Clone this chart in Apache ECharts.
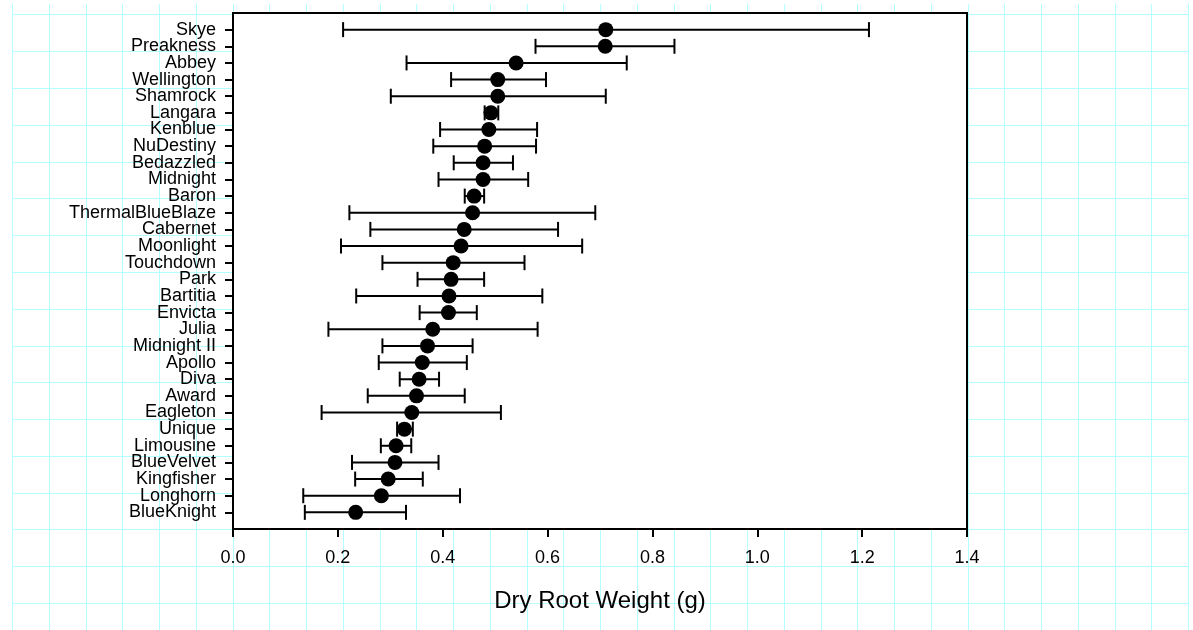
<!DOCTYPE html>
<html>
<head>
<meta charset="utf-8">
<script src="https://cdn.jsdelivr.net/npm/echarts@6/dist/echarts.min.js"></script>
<style>
html,body{margin:0;padding:0;background:#ffffff;}
#chart{width:1193px;height:630px;}
</style>
</head>
<body>
<div id="chart"></div>
<script>
// ---- data (top to bottom as drawn) ----
const cultivars = ['Skye','Preakness','Abbey','Wellington','Shamrock','Langara','Kenblue','NuDestiny','Bedazzled','Midnight','Baron','ThermalBlueBlaze','Cabernet','Moonlight','Touchdown','Park','Bartitia','Envicta','Julia','Midnight II','Apollo','Diva','Award','Eagleton','Unique','Limousine','BlueVelvet','Kingfisher','Longhorn','BlueKnight'];
const means = [0.711,0.710,0.540,0.505,0.505,0.492,0.488,0.480,0.477,0.477,0.460,0.457,0.441,0.435,0.420,0.416,0.412,0.411,0.381,0.371,0.361,0.355,0.350,0.341,0.327,0.311,0.309,0.296,0.283,0.234];
const lowerBounds = [0.210,0.577,0.331,0.416,0.301,0.480,0.395,0.382,0.421,0.392,0.442,0.222,0.262,0.206,0.285,0.352,0.235,0.356,0.182,0.285,0.278,0.318,0.257,0.169,0.313,0.282,0.227,0.233,0.134,0.137];
const upperBounds = [1.213,0.842,0.751,0.597,0.711,0.506,0.580,0.578,0.534,0.563,0.479,0.691,0.620,0.666,0.556,0.479,0.590,0.465,0.581,0.457,0.446,0.393,0.442,0.511,0.343,0.340,0.392,0.362,0.433,0.330];
const xMin = 0, xMax = 1.4, xStep = 0.2;
const xTitle = 'Dry Root Weight (g)';

// padded category list (empty slot above and below)
const yCats = [' '].concat(cultivars, ['  ']);

// ---- background graph-paper decoration ----
const bgColor = '#b4ffff';
const bg = [];
for (let i = 0; i <= 32; i++) {
  const x = Math.round(12 + 36.75 * i) + 0.5;
  bg.push({type:'line', z:-10, silent:true, shape:{x1:x, y1:4, x2:x, y2:630}, style:{stroke:bgColor, lineWidth:1}});
}
for (let j = 0; j <= 16; j++) {
  const y = Math.round(14.3 + 36.8 * j) + 0.5;
  bg.push({type:'line', z:-10, silent:true, shape:{x1:12, y1:y, x2:1189, y2:y}, style:{stroke:bgColor, lineWidth:1}});
}

const font = 'Liberation Sans, Arial, sans-serif';
const chart = echarts.init(document.getElementById('chart'), null, {renderer:'canvas'});
chart.setOption({
  animation: false,
  backgroundColor: '#ffffff',
  graphic: { elements: bg },
  grid: {
    left: 233, right: 226, top: 13, bottom: 101,
    show: true, backgroundColor: '#ffffff', borderColor: '#000000', borderWidth: 2, z: 1
  },
  xAxis: {
    type: 'value', min: xMin, max: xMax, interval: xStep,
    name: xTitle, nameLocation: 'middle', nameGap: 60,
    nameTextStyle: {fontFamily: font, fontSize: 24, color: '#000'},
    axisLine: {show: true, lineStyle: {color: '#000', width: 2}},
    axisTick: {show: true, length: 8, lineStyle: {color: '#000', width: 2}},
    axisLabel: {margin: 20, fontFamily: font, fontSize: 18, color: '#000', formatter: v => v.toFixed(1)},
    splitLine: {show: false}
  },
  yAxis: {
    type: 'category', data: yCats, inverse: true, boundaryGap: false,
    axisLine: {show: true, lineStyle: {color: '#000', width: 2}},
    axisTick: {show: true, length: 8, lineStyle: {color: '#000', width: 2},
      interval: (idx) => idx > 0 && idx < yCats.length - 1},
    axisLabel: {interval: 0, margin: 17, fontFamily: font, fontSize: 18, color: '#000'},
    splitLine: {show: false}
  },
  series: [
    {
      type: 'custom', z: 3,
      encode: {x: [0, 1], y: 2},
      data: cultivars.map((c, i) => [lowerBounds[i], upperBounds[i], c]),
      renderItem: function (params, api) {
        const yv = api.value(2);
        const p1 = api.coord([api.value(0), yv]);
        const p2 = api.coord([api.value(1), yv]);
        const h = 7.5;
        const st = {stroke: '#000', lineWidth: 2};
        return {type: 'group', children: [
          {type: 'line', shape: {x1: p1[0], y1: p1[1], x2: p2[0], y2: p2[1]}, style: st},
          {type: 'line', shape: {x1: p1[0], y1: p1[1] - h, x2: p1[0], y2: p1[1] + h}, style: st},
          {type: 'line', shape: {x1: p2[0], y1: p2[1] - h, x2: p2[0], y2: p2[1] + h}, style: st}
        ]};
      }
    },
    {
      type: 'scatter', z: 4,
      symbol: 'circle', symbolSize: 15,
      itemStyle: {color: '#000', opacity: 1},
      data: cultivars.map((c, i) => [means[i], c])
    }
  ]
});
</script>
</body>
</html>
